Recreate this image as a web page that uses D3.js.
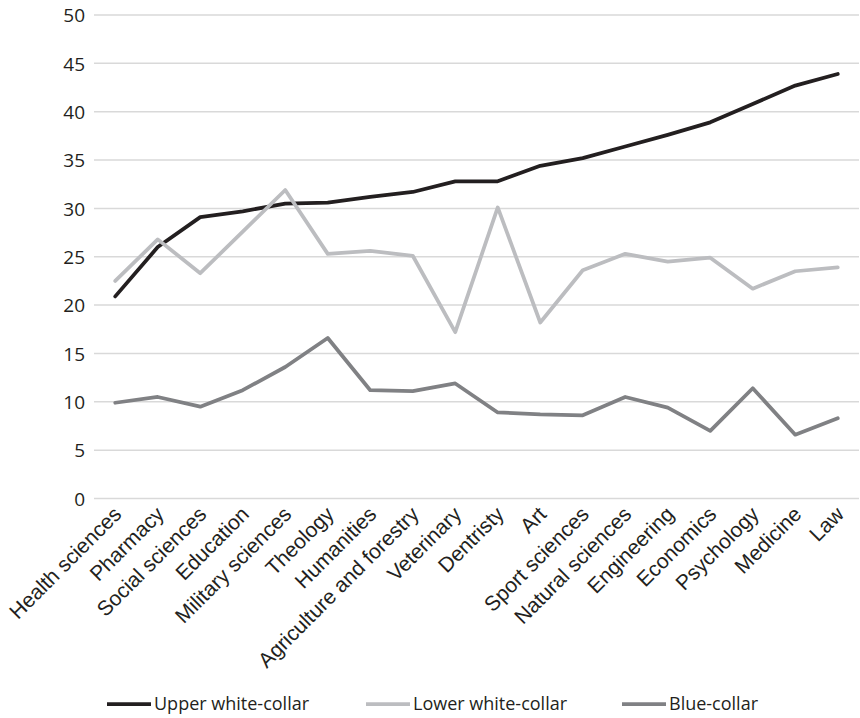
<!DOCTYPE html>
<html>
<head>
<meta charset="utf-8">
<script src="https://cdn.jsdelivr.net/npm/d3@7"></script>
<style>
  html, body { margin: 0; padding: 0; background: #fff; }
  svg { display: block; }
</style>
</head>
<body>
<svg id="chart" width="860" height="718"></svg>
<script>
const categories = ["Health sciences", "Pharmacy", "Social sciences", "Education", "Military sciences", "Theology", "Humanities", "Agriculture and forestry", "Veterinary", "Dentristy", "Art", "Sport sciences", "Natural sciences", "Engineering", "Economics", "Psychology", "Medicine", "Law"];
const upperWhiteCollar = [20.9, 26.0, 29.1, 29.7, 30.5, 30.6, 31.2, 31.7, 32.8, 32.8, 34.4, 35.2, 36.4, 37.6, 38.9, 40.8, 42.7, 43.9];
const lowerWhiteCollar = [22.5, 26.8, 23.3, 27.6, 31.9, 25.3, 25.6, 25.1, 17.2, 30.1, 18.2, 23.6, 25.3, 24.5, 24.9, 21.7, 23.5, 23.9];
const blueCollar = [9.9, 10.5, 9.5, 11.2, 13.6, 16.6, 11.2, 11.1, 11.9, 8.9, 8.7, 8.6, 10.5, 9.4, 7.0, 11.4, 6.6, 8.3];
const yTicks = [0, 5, 10, 15, 20, 25, 30, 35, 40, 45, 50];
const seriesNames = ["Upper white-collar", "Lower white-collar", "Blue-collar"];
const seriesColors = ["#231f20", "#bcbdc0", "#808184"];

const series = [upperWhiteCollar, lowerWhiteCollar, blueCollar].map((values, i) => ({
  name: seriesNames[i], color: seriesColors[i], values
}));

const svg = d3.select("#chart");
const plot = { left: 94, right: 859, top: 15, bottom: 498.5 };

const x = d3.scalePoint().domain(categories).range([plot.left, plot.right]).padding(0.5);
const y = d3.scaleLinear().domain([0, 50]).range([plot.bottom, plot.top]);

// gridlines
svg.append("g").selectAll("line").data(yTicks).join("line")
  .attr("x1", plot.left).attr("x2", plot.right)
  .attr("y1", d => y(d)).attr("y2", d => y(d))
  .attr("stroke", "#d9d9d9").attr("stroke-width", 1.5);

// y axis labels
const yAxis = d3.axisLeft(y).tickValues(yTicks).tickSize(0).tickPadding(0);
const yg = svg.append("g").attr("transform", `translate(${plot.left - 9},0)`).call(yAxis);
yg.select(".domain").remove();
yg.selectAll("text")
  .attr("font-family", "'Open Sans', sans-serif")
  .attr("font-size", 19)
  .attr("fill", "#231f20")
  .attr("dy", "0.36em");

// x axis labels
const xAxis = d3.axisBottom(x).tickSize(0).tickPadding(0);
const xg = svg.append("g").attr("transform", `translate(0,${plot.bottom})`).call(xAxis);
xg.select(".domain").remove();
xg.selectAll("text")
  .attr("font-family", "'Liberation Sans', Arial, sans-serif")
  .attr("font-size", 21)
  .attr("fill", "#231f20")
  .attr("text-anchor", "end")
  .attr("dy", null)
  .attr("y", 0)
  .attr("transform", "translate(7,17) rotate(-45)");

// lines
const line = d3.line().x((d, i) => x(categories[i])).y(d => y(d));
svg.append("g").selectAll("path").data(series).join("path")
  .attr("d", d => line(d.values))
  .attr("fill", "none")
  .attr("stroke", d => d.color)
  .attr("stroke-width", 3.75)
  .attr("stroke-linejoin", "round")
  .attr("stroke-linecap", "round");

// legend
const legendX = [107, 366, 622];
const lg = svg.append("g").selectAll("g").data(series).join("g")
  .attr("transform", (d, i) => `translate(${legendX[i]},704)`);
lg.append("line").attr("x1", 0).attr("x2", 44).attr("y1", 0).attr("y2", 0)
  .attr("stroke", d => d.color).attr("stroke-width", 3.75);
lg.append("text").attr("x", 47).attr("y", 0).attr("dy", "0.36em")
  .attr("font-family", "'Open Sans', sans-serif")
  .attr("font-size", 18)
  .attr("fill", "#231f20")
  .text(d => d.name);
</script>
</body>
</html>
